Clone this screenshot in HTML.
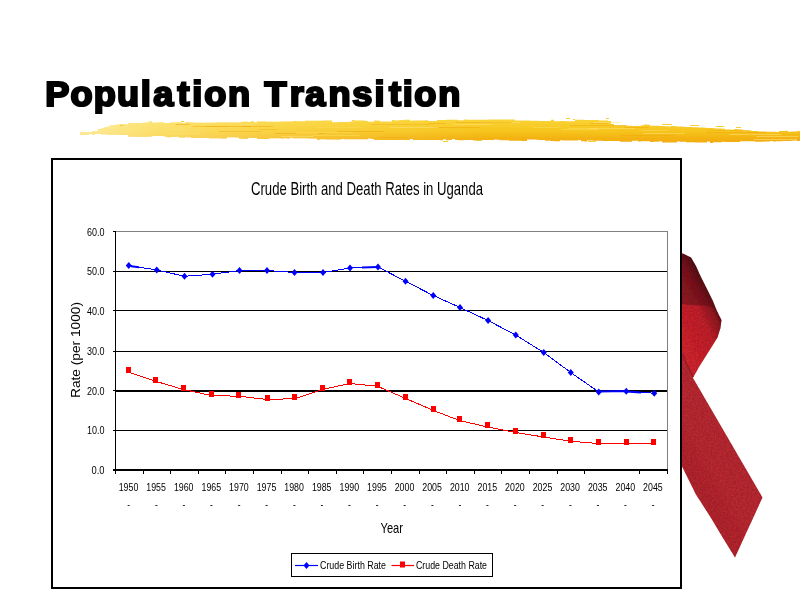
<!DOCTYPE html>
<html lang="en">
<head>
<meta charset="utf-8">
<title>Population Transition</title>
<style>
html,body{margin:0;padding:0;background:#fff;}
body{width:800px;height:600px;overflow:hidden;position:relative;font-family:"Liberation Sans",sans-serif;}
svg{position:absolute;left:0;top:0;display:block;}
text{font-family:"Liberation Sans",sans-serif;}
</style>
</head>
<body>
<svg width="800" height="600" viewBox="0 0 800 600">
<defs>
<linearGradient id="brushV" gradientUnits="userSpaceOnUse" x1="0" y1="120" x2="0" y2="143">
<stop offset="0" stop-color="#f9d335"/>
<stop offset="0.5" stop-color="#f6c41c"/>
<stop offset="0.8" stop-color="#f3b212"/>
<stop offset="1" stop-color="#f2ac10"/>
</linearGradient>
<linearGradient id="brushH" gradientUnits="userSpaceOnUse" x1="80" y1="0" x2="480" y2="0">
<stop offset="0" stop-color="#fff4b8" stop-opacity="0.8"/>
<stop offset="0.2" stop-color="#ffee98" stop-opacity="0.62"/>
<stop offset="0.55" stop-color="#ffe880" stop-opacity="0.3"/>
<stop offset="1" stop-color="#ffe880" stop-opacity="0"/>
</linearGradient>
<linearGradient id="ribBack" gradientUnits="userSpaceOnUse" x1="684" y1="300" x2="712" y2="283">
<stop offset="0" stop-color="#8e1d23"/>
<stop offset="0.5" stop-color="#7a181d"/>
<stop offset="0.8" stop-color="#521215"/>
<stop offset="1" stop-color="#360d0f"/>
</linearGradient>
<linearGradient id="ribFront" gradientUnits="userSpaceOnUse" x1="684" y1="340" x2="722" y2="322">
<stop offset="0" stop-color="#d0252d"/>
<stop offset="0.6" stop-color="#c2222a"/>
<stop offset="0.9" stop-color="#8f1b21"/>
<stop offset="1" stop-color="#6b1519"/>
</linearGradient>
<linearGradient id="ribBot" gradientUnits="userSpaceOnUse" x1="690" y1="470" x2="760" y2="430">
<stop offset="0" stop-color="#b3262d"/>
<stop offset="0.3" stop-color="#bb2a31"/>
<stop offset="0.8" stop-color="#b62930"/>
<stop offset="1" stop-color="#982026"/>
</linearGradient>
<filter id="mottle" x="0" y="0" width="100%" height="100%" filterUnits="objectBoundingBox">
<feTurbulence type="fractalNoise" baseFrequency="0.55" numOctaves="2" seed="3" result="n"/>
<feColorMatrix in="n" type="matrix" values="0 0 0 0 0  0 0 0 0 0  0 0 0 0 0  0.9 0 0 0 -0.3" result="a"/>
<feFlood flood-color="#5a1420" result="f"/>
<feComposite in="f" in2="a" operator="in" result="dark"/>
<feComposite in="dark" in2="SourceAlpha" operator="in" result="darkclip"/>
<feGaussianBlur in="SourceGraphic" stdDeviation="0.6" result="soft"/>
<feMerge><feMergeNode in="soft"/><feMergeNode in="darkclip"/></feMerge>
</filter>
</defs>
<rect x="0" y="0" width="800" height="600" fill="#ffffff"/>
<path d="M80,132.4 H83 V132.0 H86 V132.3 H89 V131.9 H92 V131.4 H95 V130.9 H98 V129.3 H101 V128.4 H104 V127.4 H107 V126.7 H110 V125.6 H113 V125.0 H116 V124.7 H119 V124.3 H122 V123.9 H125 V124.6 H128 V123.1 H131 V123.2 H134 V122.9 H137 V123.2 H140 V122.9 H143 V122.7 H146 V122.5 H149 V121.6 H152 V122.7 H155 V122.7 H158 V122.6 H161 V122.6 H164 V123.0 H167 V123.0 H170 V122.6 H173 V122.6 H176 V122.6 H179 V122.6 H182 V123.3 H185 V122.3 H188 V122.3 H191 V122.5 H194 V122.8 H197 V122.8 H200 V122.8 H203 V122.8 H206 V122.8 H209 V122.7 H212 V122.7 H215 V122.6 H218 V122.6 H221 V122.6 H224 V122.5 H227 V122.5 H230 V122.4 H233 V122.4 H236 V122.4 H239 V122.3 H242 V121.8 H245 V121.7 H248 V121.9 H251 V121.2 H254 V122.4 H257 V121.4 H260 V121.4 H263 V121.4 H266 V121.7 H269 V121.7 H272 V121.7 H275 V121.7 H278 V121.7 H281 V121.6 H284 V121.6 H287 V121.6 H290 V121.6 H293 V121.1 H296 V121.2 H299 V121.2 H302 V121.2 H305 V120.7 H308 V120.7 H311 V120.7 H314 V120.7 H317 V120.7 H320 V120.7 H323 V120.6 H326 V120.6 H329 V120.6 H332 V122.2 H335 V122.2 H338 V122.1 H341 V122.1 H344 V122.1 H347 V122.0 H350 V121.5 H353 V120.5 H356 V120.6 H359 V120.4 H362 V120.5 H365 V120.9 H368 V121.8 H371 V121.7 H374 V120.6 H377 V120.7 H380 V121.6 H383 V121.5 H386 V121.5 H389 V121.5 H392 V120.1 H395 V120.4 H398 V120.3 H401 V119.9 H404 V119.8 H407 V119.8 H410 V120.7 H413 V120.6 H416 V120.6 H419 V120.6 H422 V120.5 H425 V120.2 H428 V120.9 H431 V120.9 H434 V120.9 H437 V119.9 H440 V119.9 H443 V119.9 H446 V119.8 H449 V119.8 H452 V119.8 H455 V119.8 H458 V120.3 H461 V120.3 H464 V119.4 H467 V119.8 H470 V119.8 H473 V119.7 H476 V119.7 H479 V119.7 H482 V119.7 H485 V119.7 H488 V119.6 H491 V119.6 H494 V119.5 H497 V119.5 H500 V119.5 H503 V119.5 H506 V119.5 H509 V119.5 H512 V119.6 H515 V120.4 H518 V120.4 H521 V120.5 H524 V120.5 H527 V120.5 H530 V120.8 H533 V120.8 H536 V120.8 H539 V120.9 H542 V120.9 H545 V120.9 H548 V120.9 H551 V119.8 H554 V121.2 H557 V121.2 H560 V121.1 H563 V121.1 H566 V121.2 H569 V121.2 H572 V121.2 H575 V119.8 H578 V119.8 H581 V119.8 H584 V119.9 H587 V119.9 H590 V119.9 H593 V120.0 H596 V120.0 H599 V120.5 H602 V120.5 H605 V120.5 H608 V120.9 H611 V123.9 H614 V125.4 H617 V125.5 H620 V125.5 H623 V125.6 H626 V125.7 H629 V125.8 H632 V125.9 H635 V126.0 H638 V126.1 H641 V125.3 H644 V124.6 H647 V124.7 H650 V125.7 H653 V125.7 H656 V125.8 H659 V126.0 H662 V126.1 H665 V126.3 H668 V126.5 H671 V126.1 H674 V126.3 H677 V126.4 H680 V126.6 H683 V126.7 H686 V126.9 H689 V127.0 H692 V127.2 H695 V127.3 H698 V127.5 H701 V127.6 H704 V127.8 H707 V127.9 H710 V128.1 H713 V128.2 H716 V128.4 H719 V128.5 H722 V128.7 H725 V129.4 H728 V129.5 H731 V129.7 H734 V129.0 H737 V129.2 H740 V129.5 H743 V130.5 H746 V130.6 H749 V130.8 H752 V131.0 H755 V131.0 H758 V131.4 H761 V131.5 H764 V131.6 H767 V131.7 H770 V131.8 H773 V131.8 H776 V131.9 H779 V131.0 H782 V131.0 H785 V130.7 H788 V131.7 H791 V131.4 H794 V131.5 H797 V131.1 H800 V131.2 V141.0 H797 V140.6 H794 V140.8 H791 V140.9 H788 V141.0 H785 V141.1 H782 V141.2 H779 V141.3 H776 V141.4 H773 V140.9 H770 V141.5 H767 V141.6 H764 V141.7 H761 V141.8 H758 V141.8 H755 V141.3 H752 V141.3 H749 V141.3 H746 V141.3 H743 V141.3 H740 V141.9 H737 V142.0 H734 V142.0 H731 V142.0 H728 V142.0 H725 V141.8 H722 V142.2 H719 V142.2 H716 V142.2 H713 V143.0 H710 V141.5 H707 V142.4 H704 V142.4 H701 V142.4 H698 V142.4 H695 V142.3 H692 V142.3 H689 V142.3 H686 V141.7 H683 V141.8 H680 V141.5 H677 V142.6 H674 V142.6 H671 V142.6 H668 V142.5 H665 V142.5 H662 V141.3 H659 V141.8 H656 V141.8 H653 V141.9 H650 V141.3 H647 V141.3 H644 V141.2 H641 V141.5 H638 V140.8 H635 V140.7 H632 V141.8 H629 V141.7 H626 V141.7 H623 V141.7 H620 V141.0 H617 V141.0 H614 V141.0 H611 V140.9 H608 V140.9 H605 V140.9 H602 V140.8 H599 V140.8 H596 V140.7 H593 V140.5 H590 V140.5 H587 V141.5 H584 V141.3 H581 V140.0 H578 V140.5 H575 V140.5 H572 V140.4 H569 V140.4 H566 V140.4 H563 V140.3 H560 V141.2 H557 V141.2 H554 V141.1 H551 V140.8 H548 V140.8 H545 V140.1 H542 V140.1 H539 V139.8 H536 V139.6 H533 V139.5 H530 V139.5 H527 V140.9 H524 V140.9 H521 V140.8 H518 V140.7 H515 V140.7 H512 V140.7 H509 V140.2 H506 V140.2 H503 V140.3 H500 V139.7 H497 V139.6 H494 V140.0 H491 V140.0 H488 V140.0 H485 V140.0 H482 V140.8 H479 V140.8 H476 V140.6 H473 V140.0 H470 V140.0 H467 V139.9 H464 V140.2 H461 V140.2 H458 V140.1 H455 V139.1 H452 V139.9 H449 V140.2 H446 V139.2 H443 V140.2 H440 V140.1 H437 V140.1 H434 V140.1 H431 V140.1 H428 V140.1 H425 V140.0 H422 V140.0 H419 V140.0 H416 V140.0 H413 V138.9 H410 V139.9 H407 V140.0 H404 V140.0 H401 V140.0 H398 V140.0 H395 V139.9 H392 V140.0 H389 V140.0 H386 V139.9 H383 V139.9 H380 V139.9 H377 V139.9 H374 V139.1 H371 V138.5 H368 V139.3 H365 V139.3 H362 V139.3 H359 V139.2 H356 V139.2 H353 V139.2 H350 V139.2 H347 V139.2 H344 V139.1 H341 V139.6 H338 V139.6 H335 V139.6 H332 V139.6 H329 V139.5 H326 V139.3 H323 V139.3 H320 V139.7 H317 V138.4 H314 V138.4 H311 V138.4 H308 V138.3 H305 V138.3 H302 V138.3 H299 V138.2 H296 V138.2 H293 V137.8 H290 V138.4 H287 V138.2 H284 V138.5 H281 V138.3 H278 V138.3 H275 V138.2 H272 V138.2 H269 V139.1 H266 V139.1 H263 V139.0 H260 V139.0 H257 V138.1 H254 V138.1 H251 V137.8 H248 V138.7 H245 V138.7 H242 V138.6 H239 V137.5 H236 V137.3 H233 V137.3 H230 V137.2 H227 V138.4 H224 V138.4 H221 V138.3 H218 V138.3 H215 V138.2 H212 V138.2 H209 V138.1 H206 V138.1 H203 V138.1 H200 V138.0 H197 V138.0 H194 V137.9 H191 V137.3 H188 V137.2 H185 V137.6 H182 V137.5 H179 V136.7 H176 V136.8 H173 V137.0 H170 V137.3 H167 V136.5 H164 V136.1 H161 V136.1 H158 V136.1 H155 V136.0 H152 V136.6 H149 V136.6 H146 V137.0 H143 V136.9 H140 V136.8 H137 V136.8 H134 V136.6 H131 V136.5 H128 V135.0 H125 V134.9 H122 V134.7 H119 V134.8 H116 V134.6 H113 V134.5 H110 V134.4 H107 V134.3 H104 V134.2 H101 V134.1 H98 V134.0 H95 V134.9 H92 V134.0 H89 V135.1 H86 V135.0 H83 V134.9 H80 V134.0 Z" fill="url(#brushV)"/>
<path d="M80,132.4 H83 V132.0 H86 V132.3 H89 V131.9 H92 V131.4 H95 V130.9 H98 V129.3 H101 V128.4 H104 V127.4 H107 V126.7 H110 V125.6 H113 V125.0 H116 V124.7 H119 V124.3 H122 V123.9 H125 V124.6 H128 V123.1 H131 V123.2 H134 V122.9 H137 V123.2 H140 V122.9 H143 V122.7 H146 V122.5 H149 V121.6 H152 V122.7 H155 V122.7 H158 V122.6 H161 V122.6 H164 V123.0 H167 V123.0 H170 V122.6 H173 V122.6 H176 V122.6 H179 V122.6 H182 V123.3 H185 V122.3 H188 V122.3 H191 V122.5 H194 V122.8 H197 V122.8 H200 V122.8 H203 V122.8 H206 V122.8 H209 V122.7 H212 V122.7 H215 V122.6 H218 V122.6 H221 V122.6 H224 V122.5 H227 V122.5 H230 V122.4 H233 V122.4 H236 V122.4 H239 V122.3 H242 V121.8 H245 V121.7 H248 V121.9 H251 V121.2 H254 V122.4 H257 V121.4 H260 V121.4 H263 V121.4 H266 V121.7 H269 V121.7 H272 V121.7 H275 V121.7 H278 V121.7 H281 V121.6 H284 V121.6 H287 V121.6 H290 V121.6 H293 V121.1 H296 V121.2 H299 V121.2 H302 V121.2 H305 V120.7 H308 V120.7 H311 V120.7 H314 V120.7 H317 V120.7 H320 V120.7 H323 V120.6 H326 V120.6 H329 V120.6 H332 V122.2 H335 V122.2 H338 V122.1 H341 V122.1 H344 V122.1 H347 V122.0 H350 V121.5 H353 V120.5 H356 V120.6 H359 V120.4 H362 V120.5 H365 V120.9 H368 V121.8 H371 V121.7 H374 V120.6 H377 V120.7 H380 V121.6 H383 V121.5 H386 V121.5 H389 V121.5 H392 V120.1 H395 V120.4 H398 V120.3 H401 V119.9 H404 V119.8 H407 V119.8 H410 V120.7 H413 V120.6 H416 V120.6 H419 V120.6 H422 V120.5 H425 V120.2 H428 V120.9 H431 V120.9 H434 V120.9 H437 V119.9 H440 V119.9 H443 V119.9 H446 V119.8 H449 V119.8 H452 V119.8 H455 V119.8 H458 V120.3 H461 V120.3 H464 V119.4 H467 V119.8 H470 V119.8 H473 V119.7 H476 V119.7 H479 V119.7 H482 V119.7 H485 V119.7 H488 V119.6 H491 V119.6 H494 V119.5 H497 V119.5 H500 V119.5 H503 V119.5 H506 V119.5 H509 V119.5 H512 V119.6 H515 V120.4 H518 V120.4 H521 V120.5 H524 V120.5 H527 V120.5 H530 V120.8 H533 V120.8 H536 V120.8 H539 V120.9 H542 V120.9 H545 V120.9 H548 V120.9 H551 V119.8 H554 V121.2 H557 V121.2 H560 V121.1 H563 V121.1 H566 V121.2 H569 V121.2 H572 V121.2 H575 V119.8 H578 V119.8 H581 V119.8 H584 V119.9 H587 V119.9 H590 V119.9 H593 V120.0 H596 V120.0 H599 V120.5 H602 V120.5 H605 V120.5 H608 V120.9 H611 V123.9 H614 V125.4 H617 V125.5 H620 V125.5 H623 V125.6 H626 V125.7 H629 V125.8 H632 V125.9 H635 V126.0 H638 V126.1 H641 V125.3 H644 V124.6 H647 V124.7 H650 V125.7 H653 V125.7 H656 V125.8 H659 V126.0 H662 V126.1 H665 V126.3 H668 V126.5 H671 V126.1 H674 V126.3 H677 V126.4 H680 V126.6 H683 V126.7 H686 V126.9 H689 V127.0 H692 V127.2 H695 V127.3 H698 V127.5 H701 V127.6 H704 V127.8 H707 V127.9 H710 V128.1 H713 V128.2 H716 V128.4 H719 V128.5 H722 V128.7 H725 V129.4 H728 V129.5 H731 V129.7 H734 V129.0 H737 V129.2 H740 V129.5 H743 V130.5 H746 V130.6 H749 V130.8 H752 V131.0 H755 V131.0 H758 V131.4 H761 V131.5 H764 V131.6 H767 V131.7 H770 V131.8 H773 V131.8 H776 V131.9 H779 V131.0 H782 V131.0 H785 V130.7 H788 V131.7 H791 V131.4 H794 V131.5 H797 V131.1 H800 V131.2 V141.0 H797 V140.6 H794 V140.8 H791 V140.9 H788 V141.0 H785 V141.1 H782 V141.2 H779 V141.3 H776 V141.4 H773 V140.9 H770 V141.5 H767 V141.6 H764 V141.7 H761 V141.8 H758 V141.8 H755 V141.3 H752 V141.3 H749 V141.3 H746 V141.3 H743 V141.3 H740 V141.9 H737 V142.0 H734 V142.0 H731 V142.0 H728 V142.0 H725 V141.8 H722 V142.2 H719 V142.2 H716 V142.2 H713 V143.0 H710 V141.5 H707 V142.4 H704 V142.4 H701 V142.4 H698 V142.4 H695 V142.3 H692 V142.3 H689 V142.3 H686 V141.7 H683 V141.8 H680 V141.5 H677 V142.6 H674 V142.6 H671 V142.6 H668 V142.5 H665 V142.5 H662 V141.3 H659 V141.8 H656 V141.8 H653 V141.9 H650 V141.3 H647 V141.3 H644 V141.2 H641 V141.5 H638 V140.8 H635 V140.7 H632 V141.8 H629 V141.7 H626 V141.7 H623 V141.7 H620 V141.0 H617 V141.0 H614 V141.0 H611 V140.9 H608 V140.9 H605 V140.9 H602 V140.8 H599 V140.8 H596 V140.7 H593 V140.5 H590 V140.5 H587 V141.5 H584 V141.3 H581 V140.0 H578 V140.5 H575 V140.5 H572 V140.4 H569 V140.4 H566 V140.4 H563 V140.3 H560 V141.2 H557 V141.2 H554 V141.1 H551 V140.8 H548 V140.8 H545 V140.1 H542 V140.1 H539 V139.8 H536 V139.6 H533 V139.5 H530 V139.5 H527 V140.9 H524 V140.9 H521 V140.8 H518 V140.7 H515 V140.7 H512 V140.7 H509 V140.2 H506 V140.2 H503 V140.3 H500 V139.7 H497 V139.6 H494 V140.0 H491 V140.0 H488 V140.0 H485 V140.0 H482 V140.8 H479 V140.8 H476 V140.6 H473 V140.0 H470 V140.0 H467 V139.9 H464 V140.2 H461 V140.2 H458 V140.1 H455 V139.1 H452 V139.9 H449 V140.2 H446 V139.2 H443 V140.2 H440 V140.1 H437 V140.1 H434 V140.1 H431 V140.1 H428 V140.1 H425 V140.0 H422 V140.0 H419 V140.0 H416 V140.0 H413 V138.9 H410 V139.9 H407 V140.0 H404 V140.0 H401 V140.0 H398 V140.0 H395 V139.9 H392 V140.0 H389 V140.0 H386 V139.9 H383 V139.9 H380 V139.9 H377 V139.9 H374 V139.1 H371 V138.5 H368 V139.3 H365 V139.3 H362 V139.3 H359 V139.2 H356 V139.2 H353 V139.2 H350 V139.2 H347 V139.2 H344 V139.1 H341 V139.6 H338 V139.6 H335 V139.6 H332 V139.6 H329 V139.5 H326 V139.3 H323 V139.3 H320 V139.7 H317 V138.4 H314 V138.4 H311 V138.4 H308 V138.3 H305 V138.3 H302 V138.3 H299 V138.2 H296 V138.2 H293 V137.8 H290 V138.4 H287 V138.2 H284 V138.5 H281 V138.3 H278 V138.3 H275 V138.2 H272 V138.2 H269 V139.1 H266 V139.1 H263 V139.0 H260 V139.0 H257 V138.1 H254 V138.1 H251 V137.8 H248 V138.7 H245 V138.7 H242 V138.6 H239 V137.5 H236 V137.3 H233 V137.3 H230 V137.2 H227 V138.4 H224 V138.4 H221 V138.3 H218 V138.3 H215 V138.2 H212 V138.2 H209 V138.1 H206 V138.1 H203 V138.1 H200 V138.0 H197 V138.0 H194 V137.9 H191 V137.3 H188 V137.2 H185 V137.6 H182 V137.5 H179 V136.7 H176 V136.8 H173 V137.0 H170 V137.3 H167 V136.5 H164 V136.1 H161 V136.1 H158 V136.1 H155 V136.0 H152 V136.6 H149 V136.6 H146 V137.0 H143 V136.9 H140 V136.8 H137 V136.8 H134 V136.6 H131 V136.5 H128 V135.0 H125 V134.9 H122 V134.7 H119 V134.8 H116 V134.6 H113 V134.5 H110 V134.4 H107 V134.3 H104 V134.2 H101 V134.1 H98 V134.0 H95 V134.9 H92 V134.0 H89 V135.1 H86 V135.0 H83 V134.9 H80 V134.0 Z" fill="url(#brushH)"/>
<rect x="296.5" y="132.0" width="56.2" height="1" fill="#fbdc55" opacity="0.55"/>
<rect x="756.3" y="136.0" width="42.1" height="1" fill="#fce27a" opacity="0.55"/>
<rect x="590.1" y="123.0" width="17.4" height="1" fill="#f1ac10" opacity="0.55"/>
<rect x="744.4" y="134.0" width="21.2" height="1" fill="#f1ac10" opacity="0.55"/>
<rect x="150.7" y="134.0" width="37.8" height="1" fill="#fbdc55" opacity="0.55"/>
<rect x="754.1" y="139.0" width="42.9" height="1" fill="#fce27a" opacity="0.55"/>
<rect x="481.6" y="122.0" width="38.3" height="1" fill="#fce27a" opacity="0.55"/>
<rect x="593.9" y="122.0" width="26.8" height="1" fill="#fce27a" opacity="0.55"/>
<rect x="707.5" y="130.0" width="43.1" height="1" fill="#f3b414" opacity="0.55"/>
<rect x="570.4" y="125.0" width="56.4" height="1" fill="#f0a80e" opacity="0.55"/>
<rect x="588.4" y="128.0" width="46.5" height="1" fill="#fce27a" opacity="0.55"/>
<rect x="274.8" y="133.0" width="50.3" height="1" fill="#f1ac10" opacity="0.55"/>
<rect x="192.5" y="126.0" width="35.8" height="1" fill="#f3b414" opacity="0.55"/>
<rect x="295.4" y="133.0" width="22.6" height="1" fill="#fbdc55" opacity="0.55"/>
<rect x="218.7" y="131.0" width="41.9" height="1" fill="#f3b414" opacity="0.55"/>
<rect x="455.6" y="122.0" width="55.7" height="1" fill="#f1ac10" opacity="0.55"/>
<rect x="242.2" y="126.0" width="30.9" height="1" fill="#f1ac10" opacity="0.55"/>
<rect x="239.4" y="124.0" width="14.5" height="1" fill="#fce27a" opacity="0.55"/>
<rect x="433.3" y="127.0" width="46.2" height="1" fill="#f0a80e" opacity="0.55"/>
<rect x="778.4" y="134.0" width="21.6" height="1" fill="#f3b414" opacity="0.55"/>
<rect x="561.1" y="129.0" width="37.2" height="1" fill="#fbdc55" opacity="0.55"/>
<rect x="568.6" y="128.0" width="30.2" height="1" fill="#fbdc55" opacity="0.55"/>
<rect x="428.7" y="123.0" width="17.2" height="1" fill="#f0a80e" opacity="0.55"/>
<rect x="371.4" y="124.0" width="57.9" height="1" fill="#f3b414" opacity="0.55"/>
<rect x="389.5" y="127.0" width="48.9" height="1" fill="#fce27a" opacity="0.55"/>
<rect x="205.3" y="126.0" width="45.9" height="1" fill="#f1ac10" opacity="0.55"/>
<rect x="729.3" y="134.0" width="21.3" height="1" fill="#fce27a" opacity="0.55"/>
<rect x="169.1" y="133.0" width="31.7" height="1" fill="#fce27a" opacity="0.55"/>
<rect x="175.6" y="124.0" width="13.7" height="1" fill="#f0a80e" opacity="0.55"/>
<rect x="311.9" y="135.0" width="47.9" height="1" fill="#fbdc55" opacity="0.55"/>
<rect x="378.7" y="137.0" width="28.1" height="1" fill="#f0a80e" opacity="0.55"/>
<rect x="315.2" y="127.0" width="46.4" height="1" fill="#fbdc55" opacity="0.55"/>
<rect x="337.4" y="131.0" width="46.6" height="1" fill="#f0a80e" opacity="0.55"/>
<rect x="165.3" y="129.0" width="23.2" height="1" fill="#fce27a" opacity="0.55"/>
<rect x="751.0" y="134.0" width="30.6" height="1" fill="#fce27a" opacity="0.55"/>
<rect x="663.3" y="133.0" width="18.4" height="1" fill="#f0a80e" opacity="0.55"/>
<rect x="655.6" y="137.0" width="47.4" height="1" fill="#f3b414" opacity="0.55"/>
<rect x="532.6" y="127.0" width="27.7" height="1" fill="#fbdc55" opacity="0.55"/>
<rect x="643.8" y="133.0" width="40.6" height="1" fill="#fce27a" opacity="0.55"/>
<rect x="624.3" y="127.0" width="23.9" height="1" fill="#f0a80e" opacity="0.55"/>
<rect x="453.5" y="124.0" width="38.1" height="1" fill="#fce27a" opacity="0.55"/>
<rect x="706.6" y="132.0" width="59.4" height="1" fill="#f0a80e" opacity="0.55"/>
<rect x="281.3" y="136.0" width="32.2" height="1" fill="#fce27a" opacity="0.55"/>
<rect x="259.1" y="129.0" width="18.4" height="1" fill="#f3b414" opacity="0.55"/>
<rect x="621.2" y="135.0" width="52.7" height="1" fill="#f0a80e" opacity="0.55"/>
<rect x="641.2" y="130.0" width="26.1" height="1" fill="#fbdc55" opacity="0.55"/>
<rect x="566" y="118" width="4" height="1" fill="#f7cf3a"/>
<rect x="573" y="119" width="2" height="1" fill="#f7cf3a"/>
<rect x="606" y="118" width="3" height="1" fill="#f7cf3a"/>
<rect x="662" y="124" width="10" height="1" fill="#f7cf3a"/>
<rect x="690" y="125" width="9" height="1" fill="#f7cf3a"/>
<rect x="716" y="126" width="8" height="1" fill="#f7cf3a"/>
<rect x="736" y="127" width="5" height="1" fill="#f7cf3a"/>
<rect x="352" y="120" width="2" height="1" fill="#f7cf3a"/>
<rect x="181" y="121" width="3" height="1" fill="#f7cf3a"/>
<rect x="120" y="125" width="3" height="1" fill="#f7cf3a"/>
<rect x="443" y="141" width="5" height="1" fill="#f7cf3a"/>
<rect x="588" y="141" width="8" height="1" fill="#f7cf3a"/>
<g transform="translate(0,105.8) scale(1.05,1)" font-size="34.4" font-weight="bold" fill="#000" stroke="#000" stroke-width="2.2" stroke-linejoin="miter" stroke-miterlimit="3">
<text y="0" x="43.1 67.12 89.29 111.43 134.05 146.07 169.05 183.1 194.64 217.21 240 251.93 276.0 290.83 312.93 335.45 356.67 370.38 383.57 394.64 417.36">Population Transition</text>
</g>
<g filter="url(#mottle)">
<path d="M676,251 L684,254 L691,257.5 L696,266 L700,275 L706,287 L712.5,300 L717,311 L721,320 L676,322 Z" fill="url(#ribBack)"/>
<path d="M676,303.5 L690,305 L704,305.5 L713,307.5 L717,311.5 L721.5,320 L720.5,328 L717.5,337.5 L711,348 L705,357.5 L699,367 L693.5,377 L676,392 Z" fill="url(#ribFront)"/>
<path d="M676,350 L683,357 L693,378 L700,390 L762.5,497.5 L735,557.5 L723,538 L710.4,517 L695.8,494.2 L682.3,467 L676,454 Z" fill="url(#ribBot)"/>
</g>
<path d="M682,354 L693,377" stroke="#7a1a1e" stroke-width="1.2" fill="none" opacity="0.7"/>
<rect x="52" y="159" width="629" height="429" fill="#fff" stroke="#000" stroke-width="2"/>
<g shape-rendering="crispEdges">
<rect x="115.5" y="231.5" width="552" height="238.5" fill="#fff" stroke="#808080" stroke-width="1"/>
<line x1="116" y1="271.5" x2="667" y2="271.5" stroke="#000" stroke-width="1"/>
<line x1="116" y1="310.5" x2="667" y2="310.5" stroke="#000" stroke-width="1"/>
<line x1="116" y1="351.5" x2="667" y2="351.5" stroke="#000" stroke-width="1"/>
<line x1="116" y1="430.5" x2="667" y2="430.5" stroke="#000" stroke-width="1"/>
<line x1="116" y1="391" x2="667" y2="391" stroke="#000" stroke-width="2"/>
<line x1="115.5" y1="231" x2="115.5" y2="474" stroke="#000" stroke-width="1"/>
<line x1="113" y1="470" x2="668" y2="470" stroke="#000" stroke-width="2"/>
<line x1="113" y1="231.5" x2="116" y2="231.5" stroke="#000" stroke-width="1"/>
<line x1="113" y1="271.5" x2="116" y2="271.5" stroke="#000" stroke-width="1"/>
<line x1="113" y1="310.5" x2="116" y2="310.5" stroke="#000" stroke-width="1"/>
<line x1="113" y1="351.5" x2="116" y2="351.5" stroke="#000" stroke-width="1"/>
<line x1="113" y1="390.5" x2="116" y2="390.5" stroke="#000" stroke-width="1"/>
<line x1="113" y1="430.5" x2="116" y2="430.5" stroke="#000" stroke-width="1"/>
<line x1="113" y1="469.5" x2="116" y2="469.5" stroke="#000" stroke-width="1"/>
<line x1="115.5" y1="470" x2="115.5" y2="474" stroke="#000" stroke-width="1"/>
<line x1="143.5" y1="470" x2="143.5" y2="474" stroke="#000" stroke-width="1"/>
<line x1="170.5" y1="470" x2="170.5" y2="474" stroke="#000" stroke-width="1"/>
<line x1="198.5" y1="470" x2="198.5" y2="474" stroke="#000" stroke-width="1"/>
<line x1="225.5" y1="470" x2="225.5" y2="474" stroke="#000" stroke-width="1"/>
<line x1="253.5" y1="470" x2="253.5" y2="474" stroke="#000" stroke-width="1"/>
<line x1="281.5" y1="470" x2="281.5" y2="474" stroke="#000" stroke-width="1"/>
<line x1="308.5" y1="470" x2="308.5" y2="474" stroke="#000" stroke-width="1"/>
<line x1="336.5" y1="470" x2="336.5" y2="474" stroke="#000" stroke-width="1"/>
<line x1="363.5" y1="470" x2="363.5" y2="474" stroke="#000" stroke-width="1"/>
<line x1="391.5" y1="470" x2="391.5" y2="474" stroke="#000" stroke-width="1"/>
<line x1="419.5" y1="470" x2="419.5" y2="474" stroke="#000" stroke-width="1"/>
<line x1="446.5" y1="470" x2="446.5" y2="474" stroke="#000" stroke-width="1"/>
<line x1="474.5" y1="470" x2="474.5" y2="474" stroke="#000" stroke-width="1"/>
<line x1="501.5" y1="470" x2="501.5" y2="474" stroke="#000" stroke-width="1"/>
<line x1="529.5" y1="470" x2="529.5" y2="474" stroke="#000" stroke-width="1"/>
<line x1="557.5" y1="470" x2="557.5" y2="474" stroke="#000" stroke-width="1"/>
<line x1="584.5" y1="470" x2="584.5" y2="474" stroke="#000" stroke-width="1"/>
<line x1="639.5" y1="470" x2="639.5" y2="474" stroke="#000" stroke-width="1"/>
<line x1="667.5" y1="470" x2="667.5" y2="474" stroke="#000" stroke-width="1"/>
</g>
<polyline points="128.75,265.5 156.75,270 184.5,276.25 212.5,274.25 239.5,270.5 267,270.5 294.5,272.5 323,272.5 350,268 378,267 405.5,281.25 433.25,295.5 460,307.5 488.1,320.6 515.75,335 543.75,352.5 570.75,372.5 598.75,392 626.25,391.25 654.25,393.25" fill="none" stroke="#0000ff" stroke-width="1" shape-rendering="crispEdges"/>
<path d="M128.75,262.0 L131.75,265.5 L128.75,269.0 L125.75,265.5 Z" fill="#0000ff"/>
<path d="M156.75,266.5 L159.75,270 L156.75,273.5 L153.75,270 Z" fill="#0000ff"/>
<path d="M184.5,272.75 L187.5,276.25 L184.5,279.75 L181.5,276.25 Z" fill="#0000ff"/>
<path d="M212.5,270.75 L215.5,274.25 L212.5,277.75 L209.5,274.25 Z" fill="#0000ff"/>
<path d="M239.5,267.0 L242.5,270.5 L239.5,274.0 L236.5,270.5 Z" fill="#0000ff"/>
<path d="M267,267.0 L270,270.5 L267,274.0 L264,270.5 Z" fill="#0000ff"/>
<path d="M294.5,269.0 L297.5,272.5 L294.5,276.0 L291.5,272.5 Z" fill="#0000ff"/>
<path d="M323,269.0 L326,272.5 L323,276.0 L320,272.5 Z" fill="#0000ff"/>
<path d="M350,264.5 L353,268 L350,271.5 L347,268 Z" fill="#0000ff"/>
<path d="M378,263.5 L381,267 L378,270.5 L375,267 Z" fill="#0000ff"/>
<path d="M405.5,277.75 L408.5,281.25 L405.5,284.75 L402.5,281.25 Z" fill="#0000ff"/>
<path d="M433.25,292.0 L436.25,295.5 L433.25,299.0 L430.25,295.5 Z" fill="#0000ff"/>
<path d="M460,304.0 L463,307.5 L460,311.0 L457,307.5 Z" fill="#0000ff"/>
<path d="M488.1,317.1 L491.1,320.6 L488.1,324.1 L485.1,320.6 Z" fill="#0000ff"/>
<path d="M515.75,331.5 L518.75,335 L515.75,338.5 L512.75,335 Z" fill="#0000ff"/>
<path d="M543.75,349.0 L546.75,352.5 L543.75,356.0 L540.75,352.5 Z" fill="#0000ff"/>
<path d="M570.75,369.0 L573.75,372.5 L570.75,376.0 L567.75,372.5 Z" fill="#0000ff"/>
<path d="M598.75,388.5 L601.75,392 L598.75,395.5 L595.75,392 Z" fill="#0000ff"/>
<path d="M626.25,387.75 L629.25,391.25 L626.25,394.75 L623.25,391.25 Z" fill="#0000ff"/>
<path d="M654.25,389.75 L657.25,393.25 L654.25,396.75 L651.25,393.25 Z" fill="#0000ff"/>
<path d="M598.75,391.5 L626.25,391 M626.25,391.6 L641,392.4 M362,267.6 L378,267 M131,266.2 L139,267.2" stroke="#0000ff" stroke-width="2" fill="none"/>
<polyline points="128,372.0 155.5,381.25 183.5,389.5 211.25,395.5 239,396.25 267.5,399.5 294.75,398.6 322.5,389.5 349.5,383.5 377.5,386.25 405.75,398.5 433.5,410.5 459.5,420.5 487.5,427.0 515.5,432.5 543.75,437.0 570.5,441.25 598.75,443.5 626.25,443.5 653.75,443.5" fill="none" stroke="#ff0000" stroke-width="1" shape-rendering="crispEdges"/>
<rect x="126" y="367" width="5" height="6" fill="#ff0000" shape-rendering="crispEdges"/>
<rect x="153" y="377" width="5" height="6" fill="#ff0000" shape-rendering="crispEdges"/>
<rect x="181" y="385" width="5" height="6" fill="#ff0000" shape-rendering="crispEdges"/>
<rect x="209" y="391" width="5" height="6" fill="#ff0000" shape-rendering="crispEdges"/>
<rect x="236" y="392" width="5" height="6" fill="#ff0000" shape-rendering="crispEdges"/>
<rect x="265" y="395" width="5" height="6" fill="#ff0000" shape-rendering="crispEdges"/>
<rect x="292" y="394" width="5" height="6" fill="#ff0000" shape-rendering="crispEdges"/>
<rect x="320" y="385" width="5" height="6" fill="#ff0000" shape-rendering="crispEdges"/>
<rect x="347" y="379" width="5" height="6" fill="#ff0000" shape-rendering="crispEdges"/>
<rect x="375" y="382" width="5" height="6" fill="#ff0000" shape-rendering="crispEdges"/>
<rect x="403" y="394" width="5" height="6" fill="#ff0000" shape-rendering="crispEdges"/>
<rect x="431" y="406" width="5" height="6" fill="#ff0000" shape-rendering="crispEdges"/>
<rect x="457" y="416" width="5" height="6" fill="#ff0000" shape-rendering="crispEdges"/>
<rect x="485" y="422" width="5" height="6" fill="#ff0000" shape-rendering="crispEdges"/>
<rect x="513" y="428" width="5" height="6" fill="#ff0000" shape-rendering="crispEdges"/>
<rect x="541" y="432" width="5" height="6" fill="#ff0000" shape-rendering="crispEdges"/>
<rect x="568" y="437" width="5" height="6" fill="#ff0000" shape-rendering="crispEdges"/>
<rect x="596" y="439" width="5" height="6" fill="#ff0000" shape-rendering="crispEdges"/>
<rect x="624" y="439" width="5" height="6" fill="#ff0000" shape-rendering="crispEdges"/>
<rect x="651" y="439" width="5" height="6" fill="#ff0000" shape-rendering="crispEdges"/>
<g fill="#000">
<text x="251" y="195" font-size="17.5" textLength="232" lengthAdjust="spacingAndGlyphs">Crude Birth and Death Rates in Uganda</text>
<text x="87.0" y="235.5" font-size="11.5" textLength="17.5" lengthAdjust="spacingAndGlyphs">60.0</text>
<text x="87.0" y="275" font-size="11.5" textLength="17.5" lengthAdjust="spacingAndGlyphs">50.0</text>
<text x="87.0" y="314.5" font-size="11.5" textLength="17.5" lengthAdjust="spacingAndGlyphs">40.0</text>
<text x="87.0" y="355" font-size="11.5" textLength="17.5" lengthAdjust="spacingAndGlyphs">30.0</text>
<text x="87.0" y="395" font-size="11.5" textLength="17.5" lengthAdjust="spacingAndGlyphs">20.0</text>
<text x="87.0" y="434" font-size="11.5" textLength="17.5" lengthAdjust="spacingAndGlyphs">10.0</text>
<text x="91.5" y="474" font-size="11.5" textLength="13" lengthAdjust="spacingAndGlyphs">0.0</text>
<text x="118.7" y="491" font-size="11" textLength="19.6" lengthAdjust="spacingAndGlyphs">1950</text>
<text x="127.3" y="508" font-size="11" textLength="2.8" lengthAdjust="spacingAndGlyphs">-</text>
<text x="146.3" y="491" font-size="11" textLength="19.6" lengthAdjust="spacingAndGlyphs">1955</text>
<text x="154.9" y="508" font-size="11" textLength="2.8" lengthAdjust="spacingAndGlyphs">-</text>
<text x="173.9" y="491" font-size="11" textLength="19.6" lengthAdjust="spacingAndGlyphs">1960</text>
<text x="182.5" y="508" font-size="11" textLength="2.8" lengthAdjust="spacingAndGlyphs">-</text>
<text x="201.5" y="491" font-size="11" textLength="19.6" lengthAdjust="spacingAndGlyphs">1965</text>
<text x="210.1" y="508" font-size="11" textLength="2.8" lengthAdjust="spacingAndGlyphs">-</text>
<text x="229.1" y="491" font-size="11" textLength="19.6" lengthAdjust="spacingAndGlyphs">1970</text>
<text x="237.7" y="508" font-size="11" textLength="2.8" lengthAdjust="spacingAndGlyphs">-</text>
<text x="256.7" y="491" font-size="11" textLength="19.6" lengthAdjust="spacingAndGlyphs">1975</text>
<text x="265.3" y="508" font-size="11" textLength="2.8" lengthAdjust="spacingAndGlyphs">-</text>
<text x="284.3" y="491" font-size="11" textLength="19.6" lengthAdjust="spacingAndGlyphs">1980</text>
<text x="292.9" y="508" font-size="11" textLength="2.8" lengthAdjust="spacingAndGlyphs">-</text>
<text x="311.9" y="491" font-size="11" textLength="19.6" lengthAdjust="spacingAndGlyphs">1985</text>
<text x="320.5" y="508" font-size="11" textLength="2.8" lengthAdjust="spacingAndGlyphs">-</text>
<text x="339.5" y="491" font-size="11" textLength="19.6" lengthAdjust="spacingAndGlyphs">1990</text>
<text x="348.1" y="508" font-size="11" textLength="2.8" lengthAdjust="spacingAndGlyphs">-</text>
<text x="367.1" y="491" font-size="11" textLength="19.6" lengthAdjust="spacingAndGlyphs">1995</text>
<text x="375.7" y="508" font-size="11" textLength="2.8" lengthAdjust="spacingAndGlyphs">-</text>
<text x="394.7" y="491" font-size="11" textLength="19.6" lengthAdjust="spacingAndGlyphs">2000</text>
<text x="403.3" y="508" font-size="11" textLength="2.8" lengthAdjust="spacingAndGlyphs">-</text>
<text x="422.3" y="491" font-size="11" textLength="19.6" lengthAdjust="spacingAndGlyphs">2005</text>
<text x="430.9" y="508" font-size="11" textLength="2.8" lengthAdjust="spacingAndGlyphs">-</text>
<text x="449.9" y="491" font-size="11" textLength="19.6" lengthAdjust="spacingAndGlyphs">2010</text>
<text x="458.5" y="508" font-size="11" textLength="2.8" lengthAdjust="spacingAndGlyphs">-</text>
<text x="477.5" y="491" font-size="11" textLength="19.6" lengthAdjust="spacingAndGlyphs">2015</text>
<text x="486.1" y="508" font-size="11" textLength="2.8" lengthAdjust="spacingAndGlyphs">-</text>
<text x="505.1" y="491" font-size="11" textLength="19.6" lengthAdjust="spacingAndGlyphs">2020</text>
<text x="513.7" y="508" font-size="11" textLength="2.8" lengthAdjust="spacingAndGlyphs">-</text>
<text x="532.7" y="491" font-size="11" textLength="19.6" lengthAdjust="spacingAndGlyphs">2025</text>
<text x="541.3" y="508" font-size="11" textLength="2.8" lengthAdjust="spacingAndGlyphs">-</text>
<text x="560.3" y="491" font-size="11" textLength="19.6" lengthAdjust="spacingAndGlyphs">2030</text>
<text x="568.9" y="508" font-size="11" textLength="2.8" lengthAdjust="spacingAndGlyphs">-</text>
<text x="587.9" y="491" font-size="11" textLength="19.6" lengthAdjust="spacingAndGlyphs">2035</text>
<text x="596.5" y="508" font-size="11" textLength="2.8" lengthAdjust="spacingAndGlyphs">-</text>
<text x="615.5" y="491" font-size="11" textLength="19.6" lengthAdjust="spacingAndGlyphs">2040</text>
<text x="624.1" y="508" font-size="11" textLength="2.8" lengthAdjust="spacingAndGlyphs">-</text>
<text x="643.1" y="491" font-size="11" textLength="19.6" lengthAdjust="spacingAndGlyphs">2045</text>
<text x="651.7" y="508" font-size="11" textLength="2.8" lengthAdjust="spacingAndGlyphs">-</text>
<text transform="translate(79.5,398) rotate(-90)" font-size="13.5" textLength="96" lengthAdjust="spacingAndGlyphs">Rate (per 1000)</text>
<text x="380.5" y="532.6" font-size="15" textLength="22.5" lengthAdjust="spacingAndGlyphs">Year</text>
</g>
<rect x="291.5" y="553.5" width="201" height="23" fill="#fff" stroke="#000" stroke-width="1" shape-rendering="crispEdges"/>
<line x1="295" y1="565.5" x2="318" y2="565.5" stroke="#0000ff" stroke-width="1.2"/>
<path d="M306.5,562 L309.5,565.5 L306.5,569 L303.5,565.5 Z" fill="#0000ff"/>
<text x="320" y="569.2" font-size="11" fill="#000" textLength="66" lengthAdjust="spacingAndGlyphs">Crude Birth Rate</text>
<line x1="391.5" y1="565.5" x2="414" y2="565.5" stroke="#ff0000" stroke-width="1.2"/>
<rect x="400" y="561.5" width="5" height="6" fill="#ff0000"/>
<text x="416" y="569.2" font-size="11" fill="#000" textLength="71" lengthAdjust="spacingAndGlyphs">Crude Death Rate</text>
</svg>
</body>
</html>
